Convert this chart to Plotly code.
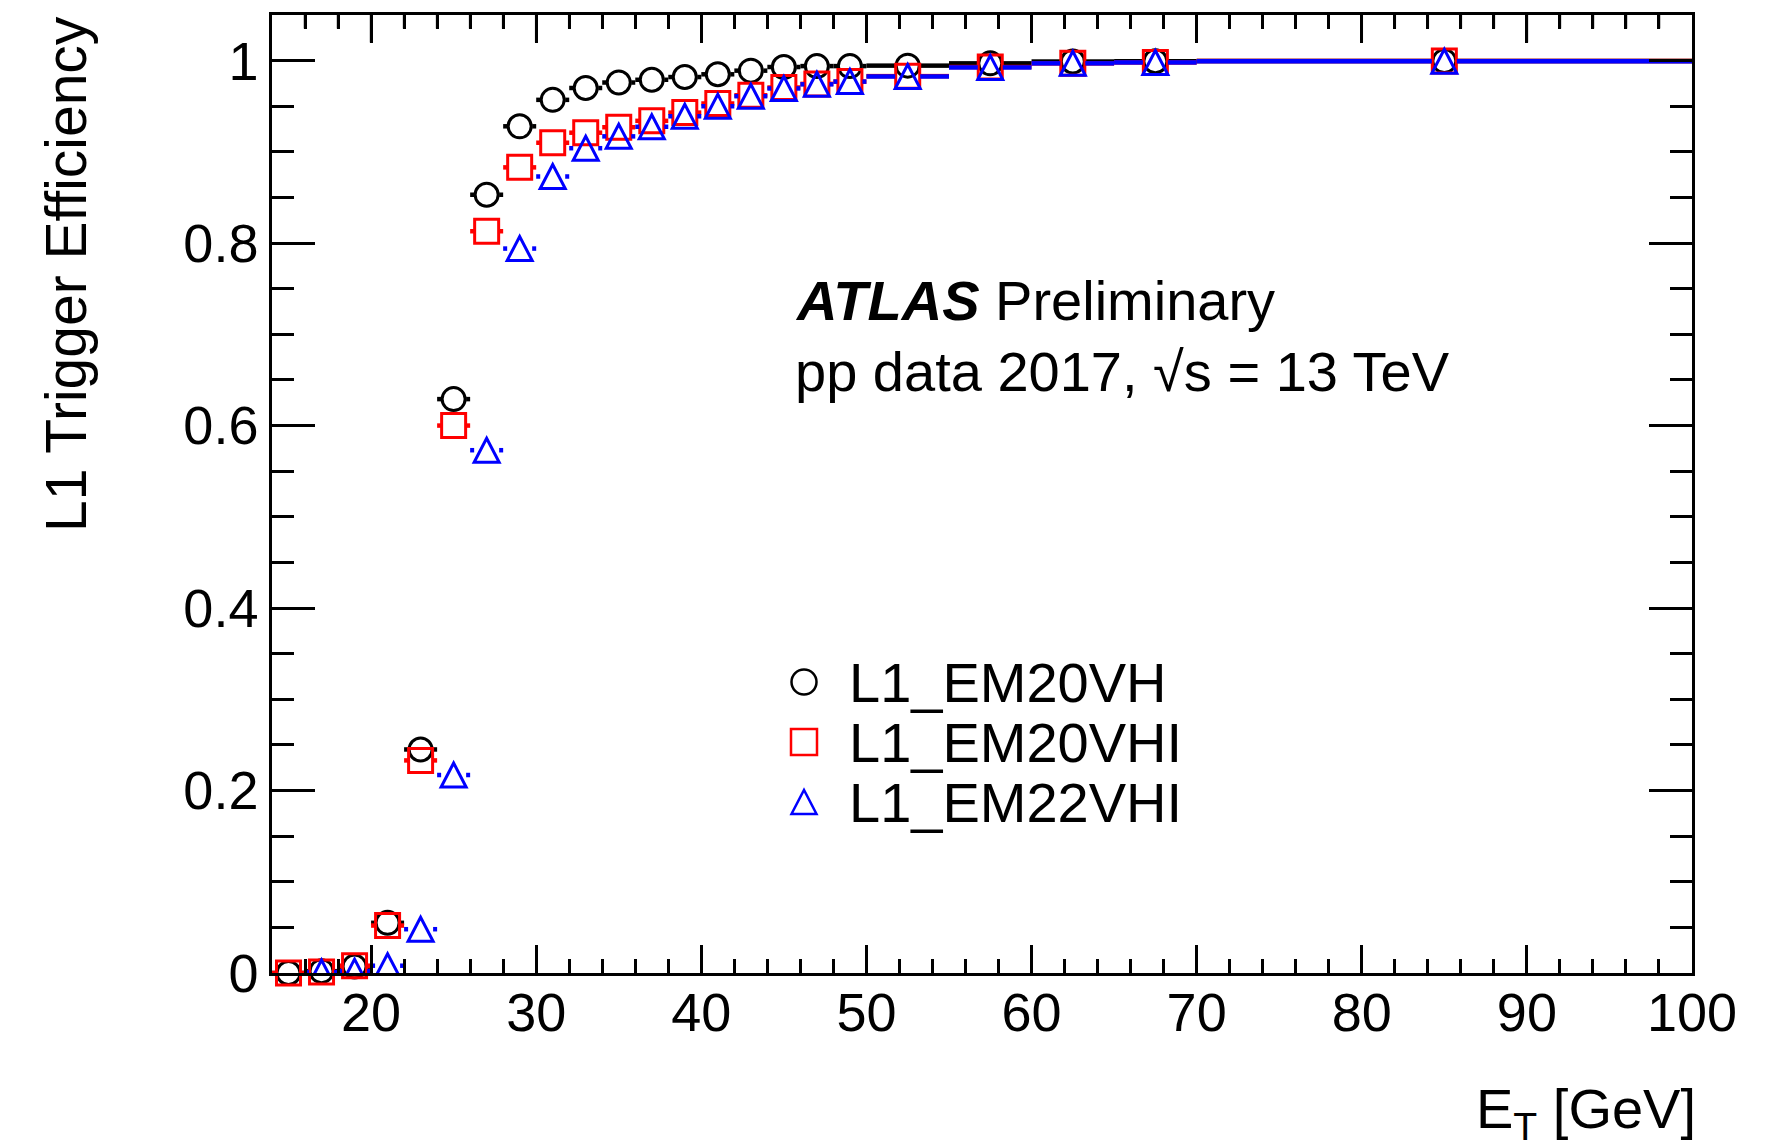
import plotly.graph_objects as go

# ---------------- data ----------------
# E_T bin centres and half-widths [GeV]
et_center = [15, 17, 19, 21, 23, 25, 27, 29, 31, 33, 35, 37, 39, 41, 43, 45, 47, 49,
             52.5, 57.5, 62.5, 67.5, 85]
et_halfwidth = [1, 1, 1, 1, 1, 1, 1, 1, 1, 1, 1, 1, 1, 1, 1, 1, 1, 1,
                2.5, 2.5, 2.5, 2.5, 15]

eff_em20vh = [0.000, 0.002, 0.007, 0.055, 0.245, 0.629, 0.853, 0.928, 0.957, 0.970,
              0.976, 0.979, 0.982, 0.985, 0.989, 0.993, 0.994, 0.994,
              0.9945, 0.997, 0.999, 0.9993, 0.9995]
eff_em20vhi = [0.000, 0.001, 0.008, 0.052, 0.233, 0.600, 0.813, 0.883, 0.910, 0.921,
               0.927, 0.934, 0.943, 0.953, 0.962, 0.9705, 0.9745, 0.977,
               0.983, 0.993, 0.997, 0.998, 0.9995]
eff_em22vhi = [None, 0.001, 0.002, 0.008, 0.048, 0.217, 0.573, 0.794, 0.873, 0.904,
               0.917, 0.9275, 0.939, 0.950, 0.961, 0.9695, 0.974, 0.977,
               0.9826, 0.9925, 0.997, 0.998, 0.9993]

series_names = ["L1_EM20VH", "L1_EM20VHI", "L1_EM22VHI"]
series_colors = ["#000000", "#ff0000", "#0000ff"]

x_tickvals = [20, 30, 40, 50, 60, 70, 80, 90, 100]
x_ticktext = ["20", "30", "40", "50", "60", "70", "80", "90", "100"]
y_tickvals = [0, 0.2, 0.4, 0.6, 0.8, 1.0]
y_ticktext = ["0", "0.2", "0.4", "0.6", "0.8", "1"]

# ---------------- geometry ----------------
W, H = 1788, 1141
PLOT_L, PLOT_R, PLOT_T, PLOT_B = 272, 1692, 15, 973
X_RANGE = [14, 100]
Y_RANGE = [0, 1.05]
X_MINOR_STEP = 2
FONT = "Liberation Sans, Arial, Helvetica, sans-serif"

px_per_gev = (PLOT_R - PLOT_L) / (X_RANGE[1] - X_RANGE[0])


def fx(px):
    return px / W


def fy(py):
    return 1 - py / H


MARKER_HALF_PX = 12.5
TRI_PATH = "M-12.5,-12 L12.5,-12 L0,12 Z"


def xerr_segments(centers, halfwidths, values):
    """Horizontal bin-width bars, interrupted where the marker sits."""
    gap = MARKER_HALF_PX / px_per_gev
    xs, ys = [], []
    for c, w, v in zip(centers, halfwidths, values):
        if v is None:
            continue
        xs += [c - w, c - gap, None, c + gap, c + w, None]
        ys += [v, v, None, v, v, None]
    return xs, ys


fig = go.Figure()

all_values = [eff_em20vh, eff_em20vhi, eff_em22vhi]
symbols = ["circle-open", "square-open", None]
sizes = [23, 24, None]

for name, color, vals, sym, size in zip(series_names, series_colors, all_values, symbols, sizes):
    xs, ys = xerr_segments(et_center, et_halfwidth, vals)
    fig.add_trace(go.Scatter(
        x=xs, y=ys, mode="lines", line=dict(color=color, width=4.5),
        hoverinfo="skip", showlegend=False, cliponaxis=False, name=name + " bins"))
    if sym is not None:
        fig.add_trace(go.Scatter(
            x=et_center, y=vals, mode="markers", name=name,
            marker=dict(symbol=sym, size=size, color=color, line=dict(width=3, color=color)),
            showlegend=False, cliponaxis=False))

shapes = []
# open triangles for L1_EM22VHI
for c, v in zip(et_center, eff_em22vhi):
    if v is None:
        continue
    shapes.append(dict(type="path", xref="x", yref="y", xsizemode="pixel", ysizemode="pixel",
                       xanchor=c, yanchor=v, path=TRI_PATH,
                       line=dict(color=series_colors[2], width=3),
                       fillcolor="rgba(0,0,0,0)", layer="above"))

# legend keys
LEG_X = 804
LEG_ROWS = [682, 742, 802]
shapes.append(dict(type="circle", xref="paper", yref="paper", xsizemode="pixel", ysizemode="pixel",
                   xanchor=fx(LEG_X), yanchor=fy(LEG_ROWS[0]), x0=-12.5, x1=12.5, y0=-12.5, y1=12.5,
                   line=dict(color=series_colors[0], width=2.5)))
shapes.append(dict(type="rect", xref="paper", yref="paper", xsizemode="pixel", ysizemode="pixel",
                   xanchor=fx(LEG_X), yanchor=fy(LEG_ROWS[1]), x0=-13, x1=13, y0=-13, y1=13,
                   line=dict(color=series_colors[1], width=2.5)))
shapes.append(dict(type="path", xref="paper", yref="paper", xsizemode="pixel", ysizemode="pixel",
                   xanchor=fx(LEG_X), yanchor=fy(LEG_ROWS[2]), path=TRI_PATH,
                   line=dict(color=series_colors[2], width=2.5)))

annotations = []

# tick marks hanging from the upper frame edge (arrow-only annotations, drawn on top)
top_major = [v for v in x_tickvals if X_RANGE[0] < v < X_RANGE[1]]
top_minor = [v for v in range(X_RANGE[0] + X_MINOR_STEP, X_RANGE[1], X_MINOR_STEP)
             if v not in x_tickvals]
for vals, length in ((top_major, 28), (top_minor, 14)):
    for v in vals:
        annotations.append(dict(x=v, y=fy(PLOT_T), xref="x", yref="paper",
                                ax=0, ay=length, axref="pixel", ayref="pixel",
                                text="", showarrow=True, arrowhead=0, arrowwidth=2.5,
                                arrowcolor="black", standoff=0, startstandoff=0,
                                borderpad=0, font=dict(size=1)))

for name, row in zip(series_names, LEG_ROWS):
    annotations.append(dict(text=name, xref="paper", yref="paper", x=fx(847), y=fy(row),
                            xanchor="left", yanchor="middle", showarrow=False,
                            font=dict(family=FONT, size=56, color="black")))

annotations.append(dict(text="<b><i>ATLAS</i></b> Preliminary", xref="paper", yref="paper",
                        x=fx(793), y=fy(300), xanchor="left", yanchor="middle", showarrow=False,
                        font=dict(family=FONT, size=56, color="black")))
annotations.append(dict(text="pp data 2017, √s = 13 TeV", xref="paper", yref="paper",
                        x=fx(793), y=fy(371), xanchor="left", yanchor="middle", showarrow=False,
                        font=dict(family=FONT, size=56, color="black")))

# axis titles
annotations.append(dict(text="E<sub>T</sub> [GeV]", xref="paper", yref="paper",
                        x=fx(PLOT_R + 6), y=fy(1075), xanchor="right", yanchor="top", showarrow=False,
                        font=dict(family=FONT, size=56, color="black")))
annotations.append(dict(text="L1 Trigger Efficiency", xref="paper", yref="paper",
                        x=fx(66), y=fy(14), xanchor="center", yanchor="top", textangle=-90,
                        showarrow=False, font=dict(family=FONT, size=57, color="black")))

tick_common = dict(ticks="inside", tickcolor="black", tickwidth=2.5,
                   showgrid=False, zeroline=False,
                   tickfont=dict(family=FONT, size=54, color="black"))

fig.update_layout(
    width=W, height=H,
    margin=dict(l=0, r=0, t=0, b=0, autoexpand=False),
    paper_bgcolor="white", plot_bgcolor="white",
    showlegend=False,
    xaxis=dict(range=X_RANGE, domain=[fx(PLOT_L), fx(PLOT_R)], anchor="y",
               showline=True, linecolor="black", linewidth=2.5, mirror="ticks",
               tickmode="array", tickvals=x_tickvals, ticktext=x_ticktext, ticklen=28,
               ticklabelstandoff=-10,
               minor=dict(ticks="inside", dtick=X_MINOR_STEP, tick0=0, ticklen=14, tickwidth=2.5,
                          tickcolor="black", showgrid=False),
               **tick_common),
    yaxis=dict(range=Y_RANGE, domain=[fy(PLOT_B), fy(PLOT_T)], anchor="x",
               showline=True, linecolor="black", linewidth=2.5, mirror="ticks",
               tickmode="array", tickvals=y_tickvals, ticktext=y_ticktext, ticklen=43,
               ticklabelstandoff=0,
               minor=dict(ticks="inside", dtick=0.05, tick0=0, ticklen=22, tickwidth=2.5,
                          tickcolor="black", showgrid=False),
               **tick_common),
    shapes=shapes,
    annotations=annotations,
)

fig.write_html("out.html")
